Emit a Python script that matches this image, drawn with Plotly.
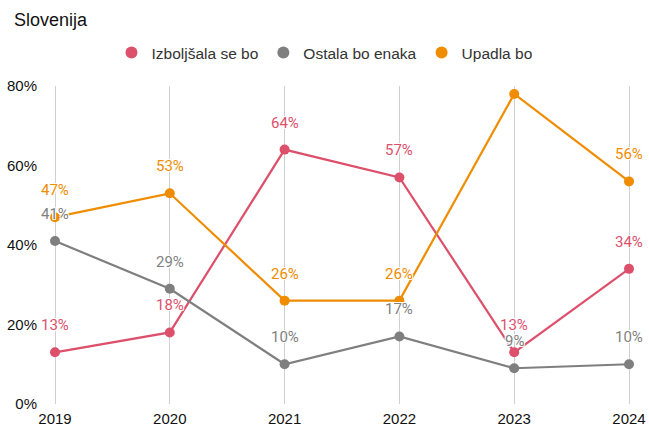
import plotly.graph_objects as go

years = [2019, 2020, 2021, 2022, 2023, 2024]
series_names = ["Izboljšala se bo", "Ostala bo enaka", "Upadla bo"]
izboljsala = [13, 18, 64, 57, 13, 34]
ostala = [41, 29, 10, 17, 9, 10]
upadla = [47, 53, 26, 26, 78, 56]
colors = ["#dc506c", "#7f7f7f", "#ef8c00"]
y_ticks = [0, 20, 40, 60, 80]
y_tick_text = [f"{t}%" for t in y_ticks]

W, H = 649, 427
ML, MR, MT, MB = 45, 10, 86, 23
pw = W - ML - MR
ph = H - MT - MB
pad_years = 10 / ((W - ML - MR - 20) / (years[-1] - years[0]))
ymax = 80
FONT = "Liberation Sans, Arial, sans-serif"

fig = go.Figure()
all_series = [izboljsala, ostala, upadla]
for name, vals, col in zip(series_names, all_series, colors):
    fig.add_trace(go.Scatter(
        x=years, y=vals, mode="lines+markers", name=name,
        line=dict(color=col, width=2.2),
        marker=dict(color=col, size=10),
        cliponaxis=False, showlegend=False, hoverinfo="skip"))
for name, col in zip(series_names, colors):
    fig.add_trace(go.Scatter(
        x=[None], y=[None], mode="markers", name=name,
        marker=dict(color=col, size=15), showlegend=True))

halo = "1px 1px 0 #fff, -1px -1px 0 #fff, 1px -1px 0 #fff, -1px 1px 0 #fff"
annotations = []
for vals, col in zip(all_series, colors):
    for x, v in zip(years, vals):
        if v + 7 > ymax:
            continue
        annotations.append(dict(
            x=x, y=v, xref="x", yref="y", text=f"{v}%", showarrow=False,
            yshift=27, font=dict(family="Roboto", size=15, color=col, shadow=halo)))

fig.update_layout(
    width=W, height=H,
    margin=dict(l=ML, r=MR, t=MT, b=MB, pad=0),
    paper_bgcolor="white", plot_bgcolor="white",
    font=dict(family=FONT, size=15, color="#222"),
    title=dict(text="Slovenija", x=14 / W, xref="container", xanchor="left",
               y=1 - 20 / H, yref="container", yanchor="middle",
               font=dict(family=FONT, size=18, color="#111")),
    legend=dict(orientation="h", xref="container", x=0.5, xanchor="center",
                yref="container", y=1 - 53 / H, yanchor="middle",
                font=dict(family=FONT, size=15.5, color="#333"),
                itemsizing="constant", tracegroupgap=0),
    annotations=annotations,
    xaxis=dict(range=[years[0] - pad_years, years[-1] + pad_years],
               tickvals=years, showgrid=True, gridcolor="#d0d0d0", gridwidth=1,
               zeroline=False, showline=False, ticks="outside", ticklen=1,
               tickcolor="rgba(0,0,0,0)", automargin=False,
               tickfont=dict(family=FONT, size=15, color="#111")),
    yaxis=dict(range=[0, ymax], tickvals=y_ticks, ticktext=y_tick_text, showgrid=False,
               zeroline=False, showline=False, ticks="outside", ticklen=4,
               tickcolor="rgba(0,0,0,0)", automargin=False,
               tickfont=dict(family=FONT, size=15, color="#111")),
)

fig.write_html("out.html")
